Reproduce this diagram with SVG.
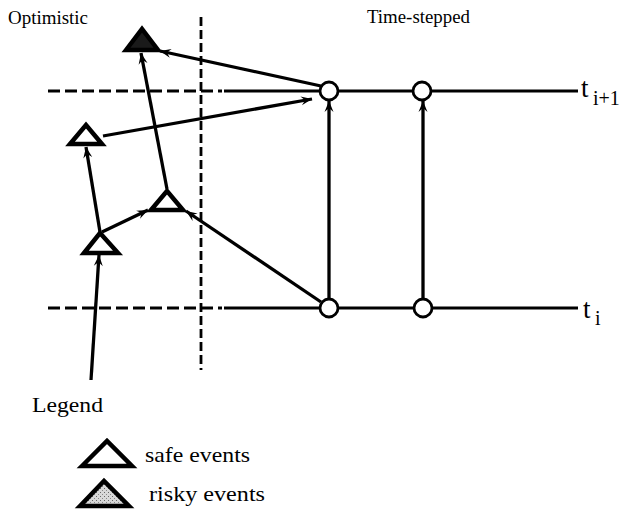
<svg xmlns="http://www.w3.org/2000/svg" width="625" height="510" viewBox="0 0 625 510">
<style>
text{font-family:"Liberation Serif","Times New Roman",serif;fill:#000}
.lbl{font-size:18px}
.big{font-size:22px}
.tt{font-size:27px}
.sub{font-size:20px}
.conn{stroke:#000;stroke-width:3.3;fill:none;marker-end:url(#arr)}
.tri{stroke:#000;stroke-width:4.5;stroke-linejoin:miter;fill:#fff}
.circ{stroke:#000;stroke-width:2.8;fill:#fff}
.axis{stroke:#000;stroke-width:2.8;fill:none}
.dash{stroke:#000;stroke-width:2.8;fill:none;stroke-dasharray:12 5}
.vdash{stroke:#000;stroke-width:2.8;fill:none;stroke-dasharray:9 4}
</style>
<defs>
<marker id="arr" markerUnits="userSpaceOnUse" markerWidth="14" markerHeight="12" viewBox="-12 -6 14 12" refX="0" refY="0" orient="auto">
<path d="M0,0 L-11,-4.5 L-7,0 L-11,4.5 Z" fill="#000"/>
</marker>
<pattern id="stip" width="4" height="4" patternUnits="userSpaceOnUse">
<rect width="4" height="4" fill="#d8d8d8"/>
<rect x="0" y="0" width="1" height="1" fill="#666"/>
<rect x="2" y="2" width="1" height="1" fill="#888"/>
</pattern>
</defs>
<rect width="625" height="510" fill="#fff"/>

<g id="labels">
<text class="lbl" x="8" y="24" textLength="80" lengthAdjust="spacingAndGlyphs">Optimistic</text>
<text class="lbl" x="367" y="23" textLength="103" lengthAdjust="spacingAndGlyphs">Time-stepped</text>
</g>

<g id="axes">
<line class="vdash" x1="201" y1="17" x2="201" y2="370"/>
<line class="dash" x1="48" y1="91" x2="222" y2="91"/>
<line class="axis" x1="224" y1="91" x2="578" y2="91"/>
<line class="dash" x1="48" y1="308" x2="222" y2="308"/>
<line class="axis" x1="224" y1="308" x2="578" y2="308"/>
<text class="tt" x="581" y="97">t</text>
<text class="sub" x="593" y="105">i+1</text>
<text class="tt" x="583" y="318">t</text>
<text class="sub" x="595" y="325">i</text>
</g>

<g id="connectors">
<line class="conn" x1="321" y1="86" x2="160" y2="51"/>
<line class="conn" x1="103" y1="136" x2="312" y2="99"/>
<line class="conn" x1="167" y1="189" x2="141" y2="53"/>
<line class="conn" x1="100" y1="232" x2="86" y2="147"/>
<line class="conn" x1="102" y1="232" x2="148" y2="210"/>
<line class="conn" x1="321" y1="302" x2="186" y2="211"/>
<line class="conn" x1="91" y1="380" x2="99" y2="255"/>
<line class="conn" x1="329" y1="299" x2="329" y2="101"/>
<line class="conn" x1="423" y1="299" x2="423" y2="101"/>
</g>

<g id="n-risky-top"><polygon class="tri" points="126,50 142,29 158,50" style="fill:#1a1a1a"/></g>
<g id="n-safe-left"><polygon class="tri" points="70,144 86,125 102,144"/></g>
<g id="n-safe-mid"><polygon class="tri" points="151,210 167,191 183,210"/></g>
<g id="n-safe-low"><polygon class="tri" points="84,253 100,233 118,253"/></g>

<g id="n-c1"><circle class="circ" cx="329" cy="91" r="9"/></g>
<g id="n-c2"><circle class="circ" cx="422" cy="91" r="9"/></g>
<g id="n-c3"><circle class="circ" cx="329" cy="308" r="9"/></g>
<g id="n-c4"><circle class="circ" cx="423" cy="308" r="9"/></g>

<g id="legend">
<text class="big" x="32" y="412" textLength="71" lengthAdjust="spacingAndGlyphs">Legend</text>
<polygon class="tri" points="82,466 107,441 132,466"/>
<text class="big" x="145" y="462" textLength="105" lengthAdjust="spacingAndGlyphs">safe events</text>
<polygon class="tri" points="80,506 104,481 129,506" style="fill:url(#stip)"/>
<text class="big" x="149" y="501" textLength="116" lengthAdjust="spacingAndGlyphs">risky events</text>
</g>
</svg>
